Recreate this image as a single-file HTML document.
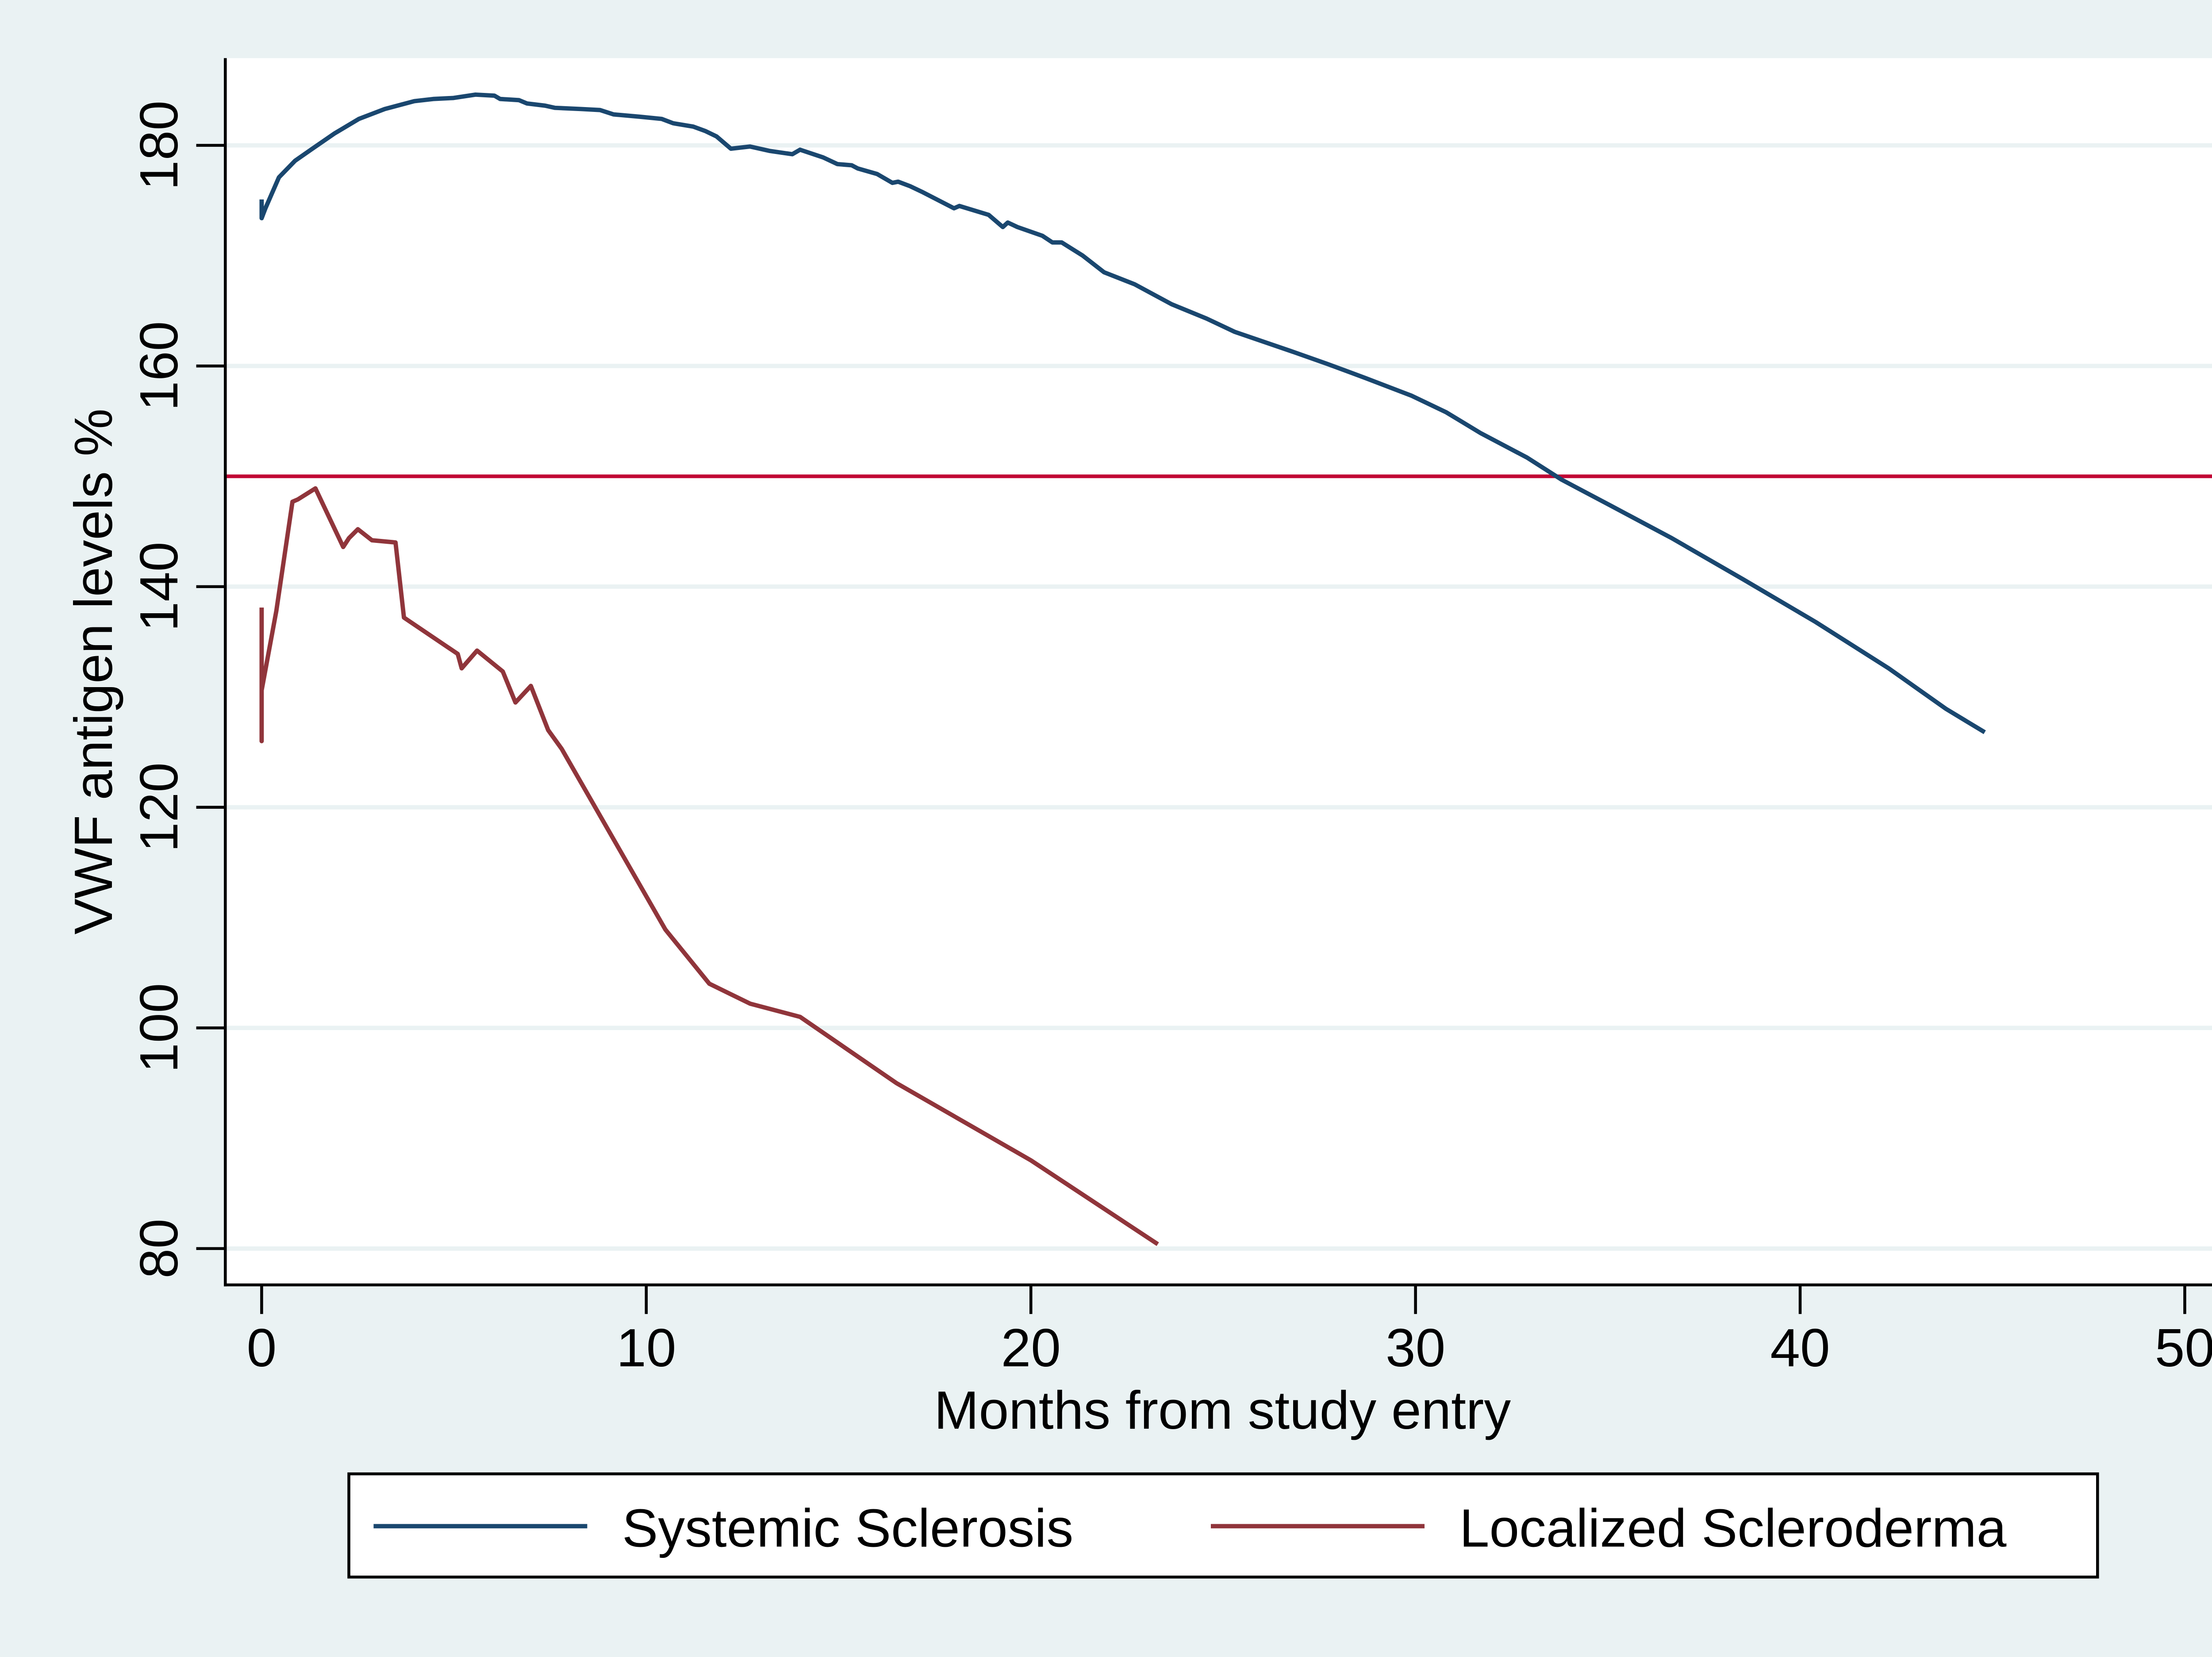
<!DOCTYPE html>
<html><head><meta charset="utf-8"><style>
html,body{margin:0;padding:0;background:#eaf2f3;width:5152px;height:3745px;overflow:hidden;}
svg{display:block;position:absolute;left:0;top:0;width:5152px;height:3745px;}
text{font-family:"Liberation Sans",Arial,sans-serif;fill:#000;}
</style></head><body>
<svg id="chart" width="5152" height="3745" viewBox="0 0 1568 1140" preserveAspectRatio="none" xmlns="http://www.w3.org/2000/svg">
<rect x="0" y="0" width="1568" height="1140" fill="#eaf2f3"/>
<rect x="156" y="40" width="1372" height="844" fill="#ffffff"/>
<g id="grid"></g>
<g id="series"></g>
<g id="axes"></g>
<text transform="translate(77,462) rotate(-90)" text-anchor="middle" font-size="37">VWF antigen levels %</text>
<text x="841" y="983" text-anchor="middle" font-size="37">Months from study entry</text>
<g>
<rect x="240" y="1014" width="1203" height="71" fill="#fff" stroke="#000" stroke-width="2"/>
<line x1="257" y1="1050" x2="404" y2="1050" stroke="#1a476f" stroke-width="3"/>
<text x="428" y="1064" font-size="37">Systemic Sclerosis</text>
<line x1="833" y1="1050" x2="980" y2="1050" stroke="#90353b" stroke-width="3"/>
<text x="1004" y="1064" font-size="37">Localized Scleroderma</text>
</g>
</svg>
<script>
const xTicks = [0,10,20,30,40,50];
const yTicks = [80,100,120,140,160,180];
const refValue = 150;
const sysMonths = [0,0,0.1,0.45,0.87,1.32,1.9,2.53,3.2,3.97,4.46,4.99,5.56,6.05,6.2,6.69,6.9,7.37,7.63,8.3,8.8,9.15,9.83,10.4,10.7,11.22,11.53,11.83,12.2,12.7,13.2,13.8,14,14.6,14.97,15.34,15.5,16.0,16.4,16.55,16.86,17.16,18.0,18.14,18.9,19.27,19.4,19.65,20.3,20.56,20.8,21.35,21.9,22.7,23.66,24.57,25.3,26.8,27.7,28.7,29.9,30.8,31.7,32.9,33.8,35.1,36.66,38.5,40.4,42.3,43.8,44.8];
const sysValues = [175.1,173.4,174.3,177.1,178.6,179.7,181.1,182.4,183.3,184,184.2,184.3,184.6,184.5,184.2,184.1,183.8,183.6,183.4,183.3,183.2,182.8,182.6,182.4,182,181.7,181.3,180.8,179.7,179.9,179.5,179.2,179.6,178.9,178.3,178.2,177.9,177.4,176.6,176.7,176.3,175.8,174.3,174.5,173.7,172.6,173.0,172.6,171.8,171.2,171.2,170.0,168.5,167.4,165.6,164.3,163.1,161.3,160.2,158.9,157.3,155.8,153.9,151.7,149.7,147.3,144.4,140.7,136.8,132.6,128.9,126.8];
const locMonths = [0,0,0,0.38,0.8,0.94,1.4,2.12,2.27,2.5,2.87,3.48,3.7,5.1,5.2,5.6,6.27,6.6,7.0,7.45,7.8,10.5,11.64,12.7,14,16.5,20,23.3];
const locValues = [138.1,126,130.6,137.8,147.7,147.9,148.9,143.6,144.4,145.2,144.2,144,137.2,133.9,132.6,134.2,132.3,129.5,131,127,125.3,108.9,104,102.2,101,95,88,80.4];

const NS='http://www.w3.org/2000/svg';
const X = v => 180 + (v-0)*(1503-180)/50;
const Y = v => 100 + (180-v)*(859-100)/100;
function mk(tag, attrs, parent){const e=document.createElementNS(NS,tag);for(const k in attrs)e.setAttribute(k,attrs[k]);parent.appendChild(e);return e;}
const grid=document.getElementById('grid'), axes=document.getElementById('axes'), series=document.getElementById('series');
yTicks.forEach(t=>{
  const g=mk('line',{x1:156,x2:1528,y1:Y(t),y2:Y(t),stroke:'#eaf2f3','stroke-width':3},grid);
  
  
  const tk=mk('line',{x1:135,x2:155,y1:Y(t),y2:Y(t),stroke:'#000','stroke-width':2},axes);
  
  
  const tx=mk('text',{transform:`translate(122,${Y(t)}) rotate(-90)`,'text-anchor':'middle','font-size':37},axes);
  tx.textContent=t;
  
  
});
xTicks.forEach(t=>{
  const tk=mk('line',{x1:X(t),x2:X(t),y1:884,y2:904,stroke:'#000','stroke-width':2},axes);
  
  
  const tx=mk('text',{x:X(t),y:940,'text-anchor':'middle','font-size':37},axes);
  tx.textContent=t;
  
  
});
const ya=mk('line',{x1:155,x2:155,y1:40,y2:885,stroke:'#000','stroke-width':2},axes);


const xa=mk('line',{x1:154,x2:1528,y1:884,y2:884,stroke:'#000','stroke-width':2},axes);


const ref=mk('line',{x1:156,x2:1528,y1:Y(refValue),y2:Y(refValue),stroke:'#c10534','stroke-width':2.5},series);


function pts(xs,ys){return xs.map((m,i)=>X(m).toFixed(1)+','+Y(ys[i]).toFixed(1)).join(' ');}
const s1=mk('polyline',{points:pts(sysMonths,sysValues),fill:'none',stroke:'#1a476f','stroke-width':3,'stroke-linejoin':'round'},series);


const s2=mk('polyline',{points:pts(locMonths,locValues),fill:'none',stroke:'#90353b','stroke-width':3,'stroke-linejoin':'round'},series);


</script>
</body></html>
